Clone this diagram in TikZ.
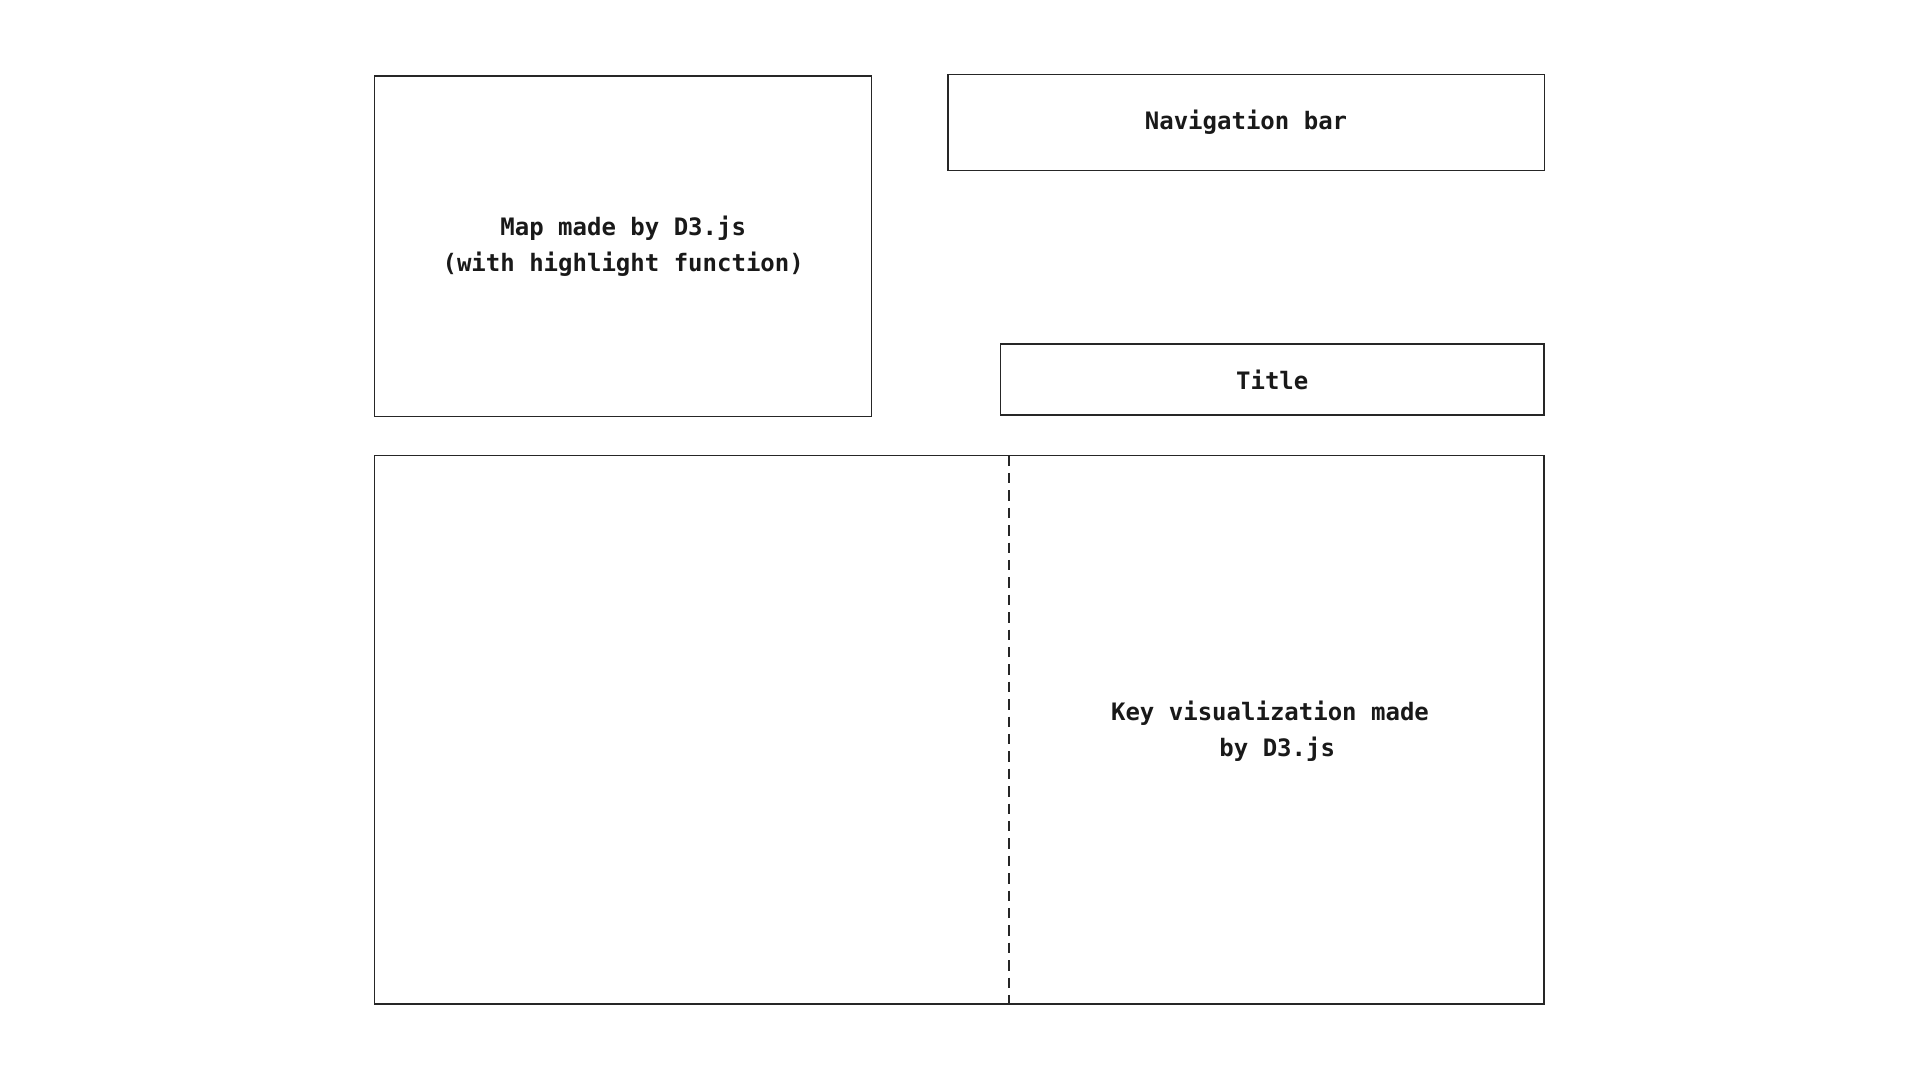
\documentclass[tikz,border=0pt]{standalone}
\usepackage{fontspec}
\setmonofont{DejaVu Sans Mono}
\begin{document}
\begin{tikzpicture}[x=0.5pt,y=-0.5pt,
  box/.style={draw=black!85, line width=0.65pt, inner sep=0pt, outer sep=0pt},
  lbl/.style={font=\fontsize{12}{17.75}\selectfont\ttfamily\bfseries, align=center, text=black!90},
  divider/.style={draw=black!85, line width=0.65pt, dash pattern=on 5.2pt off 3.5pt}]
\useasboundingbox (0,0) rectangle (1920,1080);
\node[box, lbl, minimum width=248.55pt, minimum height=170.2pt] (map) at (623.2,246.1)
  {Map made by D3.js\\(with highlight function)};
\node[box, lbl, minimum width=298.15pt, minimum height=47.75pt] (nav) at (1246,122.45) {Navigation bar};
\node[box, lbl, minimum width=271.85pt, minimum height=35.5pt] (title) at (1272.25,379.6) {Title};
\node[box, minimum width=584.7pt, minimum height=274.3pt] (big) at (959.4,729.8) {};
\node[lbl] (key) at (1270,731) {Key visualization made\\\phantom{b}by D3.js};
\coordinate (dtop) at (1009,455.5);
\coordinate (dbot) at (1009,1004.1);
\draw[divider] (dtop) -- (dbot);
\end{tikzpicture}
\end{document}
